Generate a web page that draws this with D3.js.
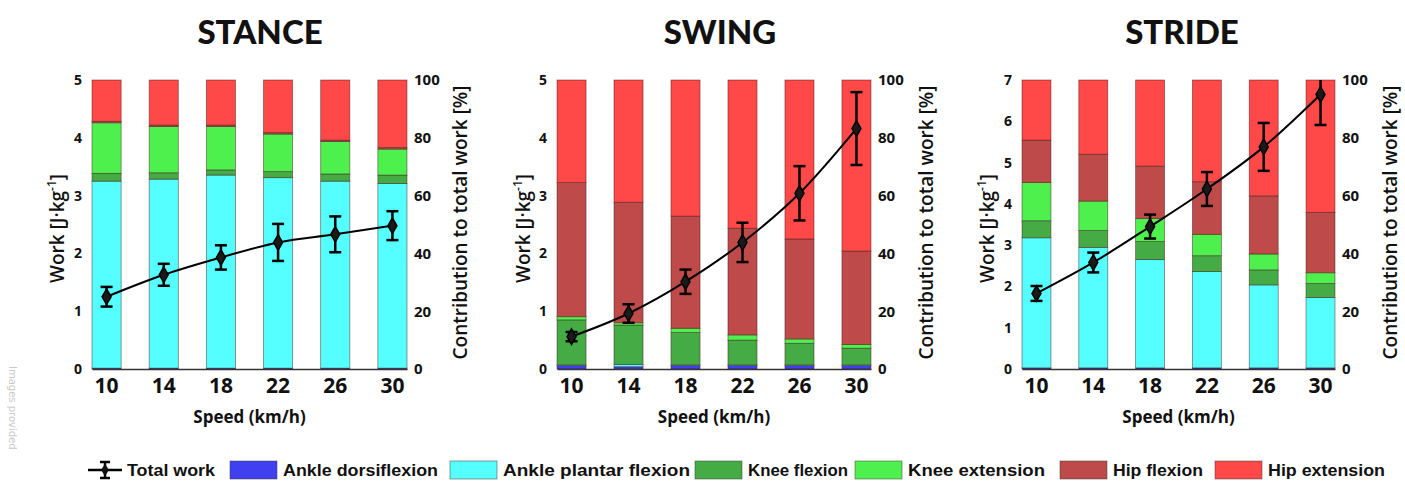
<!DOCTYPE html>
<html>
<head>
<meta charset="utf-8">
<script src="https://cdn.jsdelivr.net/npm/d3@7"></script>
<style>
  html, body { margin: 0; padding: 0; background: #fff; }
  svg { display: block; }
</style>
</head>
<body>
<svg id="chart" width="1405" height="483"></svg>
<script>
// ---------------- DATA ----------------
const speeds = ["10", "14", "18", "22", "26", "30"];
const panelTitles = ["STANCE", "SWING", "STRIDE"];
const componentNames = ["Ankle dorsiflexion", "Ankle plantar flexion", "Knee flexion", "Knee extension", "Hip flexion", "Hip extension"];
const componentColors = ["#4040f0", "#55ffff", "#45ab45", "#4ef04e", "#bf4a4a", "#ff4848"];

// contributions to total work [%] (stacked, bottom to top)
const stanceDorsi   = [0.3, 0.3, 0.3, 0.3, 0.3, 0.3];
const stancePlantar = [64.7, 65.4, 66.8, 65.9, 64.7, 63.9];
const stanceKneeFlx = [2.7, 2.2, 1.8, 2.1, 2.5, 2.9];
const stanceKneeExt = [17.5, 16.0, 15.0, 13.0, 11.2, 9.0];
const stanceHipFlx  = [0.5, 0.5, 0.5, 0.5, 0.5, 0.5];
const stanceHipExt  = [14.3, 15.6, 15.6, 18.2, 20.8, 23.4];

const swingDorsi    = [1.2, 0.8, 1.2, 1.2, 1.2, 1.2];
const swingPlantar  = [0.2, 0.8, 0.2, 0.2, 0.2, 0.2];
const swingKneeFlx  = [15.6, 13.6, 11.2, 8.6, 7.5, 5.8];
const swingKneeExt  = [1.1, 0.8, 1.5, 1.8, 1.5, 1.3];
const swingHipFlx   = [46.4, 41.7, 38.8, 36.9, 34.6, 32.3];
const swingHipExt   = [35.5, 42.3, 47.1, 51.3, 55.0, 59.2];

const strideDorsi   = [0.4, 0.4, 0.4, 0.4, 0.4, 0.4];
const stridePlantar = [45.0, 41.7, 37.5, 33.3, 28.7, 24.3];
const strideKneeFlx = [5.9, 5.8, 6.2, 5.5, 5.2, 4.9];
const strideKneeExt = [13.2, 10.2, 8.0, 7.4, 5.5, 3.7];
const strideHipFlx  = [14.7, 16.2, 18.1, 18.2, 20.1, 20.9];
const strideHipExt  = [20.8, 25.7, 29.8, 35.2, 40.1, 45.8];

// total work [J/kg] mean and SD
const stanceTotal   = [1.25, 1.63, 1.93, 2.19, 2.33, 2.48];
const stanceTotalSD = [0.17, 0.19, 0.21, 0.32, 0.31, 0.25];
const swingTotal    = [0.56, 0.96, 1.51, 2.19, 3.04, 4.16];
const swingTotalSD  = [0.08, 0.16, 0.21, 0.34, 0.47, 0.63];
const strideTotal   = [1.83, 2.58, 3.45, 4.36, 5.38, 6.65];
const strideTotalSD = [0.18, 0.24, 0.29, 0.41, 0.58, 0.74];

const workMax = [5, 5, 7];
const pctTicks = [0, 20, 40, 60, 80, 100];

// ---------------- LAYOUT ----------------
const panels = [
  { title: panelTitles[0], comps: [stanceDorsi, stancePlantar, stanceKneeFlx, stanceKneeExt, stanceHipFlx, stanceHipExt],
    total: stanceTotal, sd: stanceTotalSD, ymax: workMax[0], x0: 92, x1: 407, titleX: 260, yLabX: 57, rLabX: 467 },
  { title: panelTitles[1], comps: [swingDorsi, swingPlantar, swingKneeFlx, swingKneeExt, swingHipFlx, swingHipExt],
    total: swingTotal, sd: swingTotalSD, ymax: workMax[1], x0: 557, x1: 871, titleX: 720, yLabX: 523, rLabX: 933 },
  { title: panelTitles[2], comps: [strideDorsi, stridePlantar, strideKneeFlx, strideKneeExt, strideHipFlx, strideHipExt],
    total: strideTotal, sd: strideTotalSD, ymax: workMax[2], x0: 1022, x1: 1335, titleX: 1182, yLabX: 987, rLabX: 1397 }
];
const yTop = 80, yBot = 369;
const tickFont = "'Open Sans', 'DejaVu Sans', sans-serif";
const titleFont = "Lato, 'Open Sans', sans-serif";

const svg = d3.select("#chart");

// watermark
svg.append("text")
  .attr("transform", "translate(9,366) rotate(90)")
  .attr("font-family", "'DejaVu Sans', sans-serif")
  .attr("font-size", 10)
  .attr("fill", "#c9c9c9")
  .text("Images provided");

panels.forEach((p, pi) => {
  const g = svg.append("g");
  const x = d3.scaleBand().domain(speeds).range([p.x0, p.x1]).paddingInner(0.49).paddingOuter(0);
  const yPct = d3.scaleLinear().domain([0, 100]).range([yBot, yTop]);
  const yWork = d3.scaleLinear().domain([0, p.ymax]).range([yBot, yTop]);

  // build table for stack
  const table = speeds.map((s, i) => {
    const row = { speed: s };
    componentNames.forEach((c, ci) => row[c] = p.comps[ci][i]);
    return row;
  });
  const series = d3.stack().keys(componentNames)(table);

  g.selectAll("g.layer").data(series).join("g")
    .attr("class", "layer")
    .attr("fill", (d, i) => componentColors[i])
    .selectAll("rect").data(d => d).join("rect")
      .attr("x", d => x(d.data.speed))
      .attr("width", x.bandwidth())
      .attr("y", d => yPct(d[1]))
      .attr("height", d => Math.max(0, yPct(d[0]) - yPct(d[1])))
      .attr("stroke", "rgba(60,20,20,0.55)")
      .attr("stroke-width", 0.8);

  // clip for total work
  const clipId = "clip" + pi;
  svg.append("clipPath").attr("id", clipId).append("rect")
    .attr("x", p.x0 - 20).attr("y", yTop).attr("width", p.x1 - p.x0 + 40).attr("height", yBot - yTop);

  const lg = g.append("g").attr("clip-path", `url(#${clipId})`);
  const cx = s => x(s) + x.bandwidth() / 2;
  const line = d3.line().x((d, i) => cx(speeds[i])).y(d => yWork(d)).curve(d3.curveMonotoneX);
  lg.append("path").datum(p.total).attr("d", line)
    .attr("fill", "none").attr("stroke", "#000").attr("stroke-width", 2);

  const eb = lg.selectAll("g.eb").data(p.total).join("g").attr("class", "eb");
  eb.append("line")
    .attr("x1", (d, i) => cx(speeds[i])).attr("x2", (d, i) => cx(speeds[i]))
    .attr("y1", (d, i) => yWork(d - p.sd[i])).attr("y2", (d, i) => yWork(d + p.sd[i]))
    .attr("stroke", "#000").attr("stroke-width", 2.5);
  [-1, 1].forEach(sg => {
    eb.append("line")
      .attr("x1", (d, i) => cx(speeds[i]) - 6).attr("x2", (d, i) => cx(speeds[i]) + 6)
      .attr("y1", (d, i) => yWork(d + sg * p.sd[i])).attr("y2", (d, i) => yWork(d + sg * p.sd[i]))
      .attr("stroke", "#000").attr("stroke-width", 2.5);
  });
  eb.append("path")
    .attr("d", d3.symbol().type(d3.symbolDiamond).size(70))
    .attr("transform", (d, i) => `translate(${cx(speeds[i])},${yWork(d)})`)
    .attr("fill", "#1a1a1a").attr("stroke", "#000").attr("stroke-width", 1.5);

  // axes
  const leftAxis = g.append("g").attr("transform", `translate(${p.x0},0)`)
    .call(d3.axisLeft(yWork).ticks(p.ymax).tickSize(0).tickPadding(10));
  leftAxis.select(".domain").remove();
  leftAxis.selectAll("text").attr("font-family", tickFont).attr("font-weight", 700)
    .attr("font-size", 14).attr("fill", "#111");

  const rightAxis = g.append("g").attr("transform", `translate(${p.x1},0)`)
    .call(d3.axisRight(yPct).tickValues(pctTicks).tickSize(0).tickPadding(7));
  rightAxis.select(".domain").remove();
  rightAxis.selectAll("text").attr("font-family", tickFont).attr("font-weight", 700)
    .attr("font-size", 15).attr("fill", "#111");

  const bottomAxis = g.append("g").attr("transform", `translate(0,${yBot})`)
    .call(d3.axisBottom(x).tickSize(0).tickPadding(9));
  bottomAxis.select(".domain").attr("stroke", "#333").attr("stroke-width", 1.5);
  bottomAxis.selectAll("text").attr("font-family", tickFont).attr("font-weight", 700)
    .attr("font-size", 21).attr("fill", "#111");

  // titles & labels
  g.append("text").attr("x", p.titleX).attr("y", 44).attr("text-anchor", "middle")
    .attr("font-family", titleFont).attr("font-weight", 900).attr("font-size", 33)
    .attr("fill", "#111").text(p.title);

  g.append("text").attr("x", (p.x0 + p.x1) / 2).attr("y", 423).attr("text-anchor", "middle")
    .attr("font-family", tickFont).attr("font-weight", 700).attr("font-size", 17)
    .attr("fill", "#111").text("Speed (km/h)");

  const yl = g.append("text")
    .attr("transform", `translate(${p.yLabX + 7},${(yTop + yBot) / 2 + 4}) rotate(-90)`)
    .attr("text-anchor", "middle")
    .attr("font-family", tickFont).attr("font-weight", 600).attr("font-size", 19).attr("fill", "#111");
  yl.append("tspan").text("Work [J\u00B7kg");
  yl.append("tspan").attr("dy", -8).attr("font-size", 12).text("-1");
  yl.append("tspan").attr("dy", 8).text("]");

  g.append("text")
    .attr("transform", `translate(${p.rLabX},${(yTop + yBot) / 2 - 2}) rotate(-90)`)
    .attr("text-anchor", "middle")
    .attr("font-family", tickFont).attr("font-weight", 600).attr("font-size", 19).attr("fill", "#111")
    .text("Contribution to total work [%]");
});

// ---------------- LEGEND ----------------
const legendItems = ["Total work"].concat(componentNames);
const legendX = [88, 230, 450, 695, 855, 1060, 1215];
const legendTextW = [88, 155, 187, 100, 137, 90, 117];
const legY = 470;
const leg = svg.append("g");
legendItems.forEach((name, i) => {
  let tx;
  if (i === 0) {
    leg.append("line").attr("x1", legendX[0]).attr("x2", legendX[0] + 34)
      .attr("y1", legY).attr("y2", legY).attr("stroke", "#000").attr("stroke-width", 2.5);
    leg.append("line").attr("x1", legendX[0] + 17).attr("x2", legendX[0] + 17)
      .attr("y1", legY - 8).attr("y2", legY + 8).attr("stroke", "#000").attr("stroke-width", 2.5);
    [-8, 8].forEach(o => leg.append("line").attr("x1", legendX[0] + 12).attr("x2", legendX[0] + 22)
      .attr("y1", legY + o).attr("y2", legY + o).attr("stroke", "#000").attr("stroke-width", 2.5));
    leg.append("path").attr("d", d3.symbol().type(d3.symbolDiamond).size(50))
      .attr("transform", `translate(${legendX[0] + 17},${legY})`).attr("fill", "#111");
    tx = legendX[0] + 39;
  } else {
    leg.append("rect").attr("x", legendX[i]).attr("y", legY - 9).attr("width", 47).attr("height", 18)
      .attr("fill", componentColors[i - 1]).attr("stroke", "rgba(60,60,60,0.5)").attr("stroke-width", 1);
    tx = legendX[i] + 53;
  }
  leg.append("text").attr("x", tx).attr("y", legY + 6)
    .attr("font-family", "'Liberation Sans Narrow', 'Liberation Sans', Arial, sans-serif")
    .attr("font-weight", 700).attr("font-size", 17).attr("fill", "#111")
    .attr("textLength", legendTextW[i]).attr("lengthAdjust", "spacingAndGlyphs")
    .text(name);
});
</script>
</body>
</html>
